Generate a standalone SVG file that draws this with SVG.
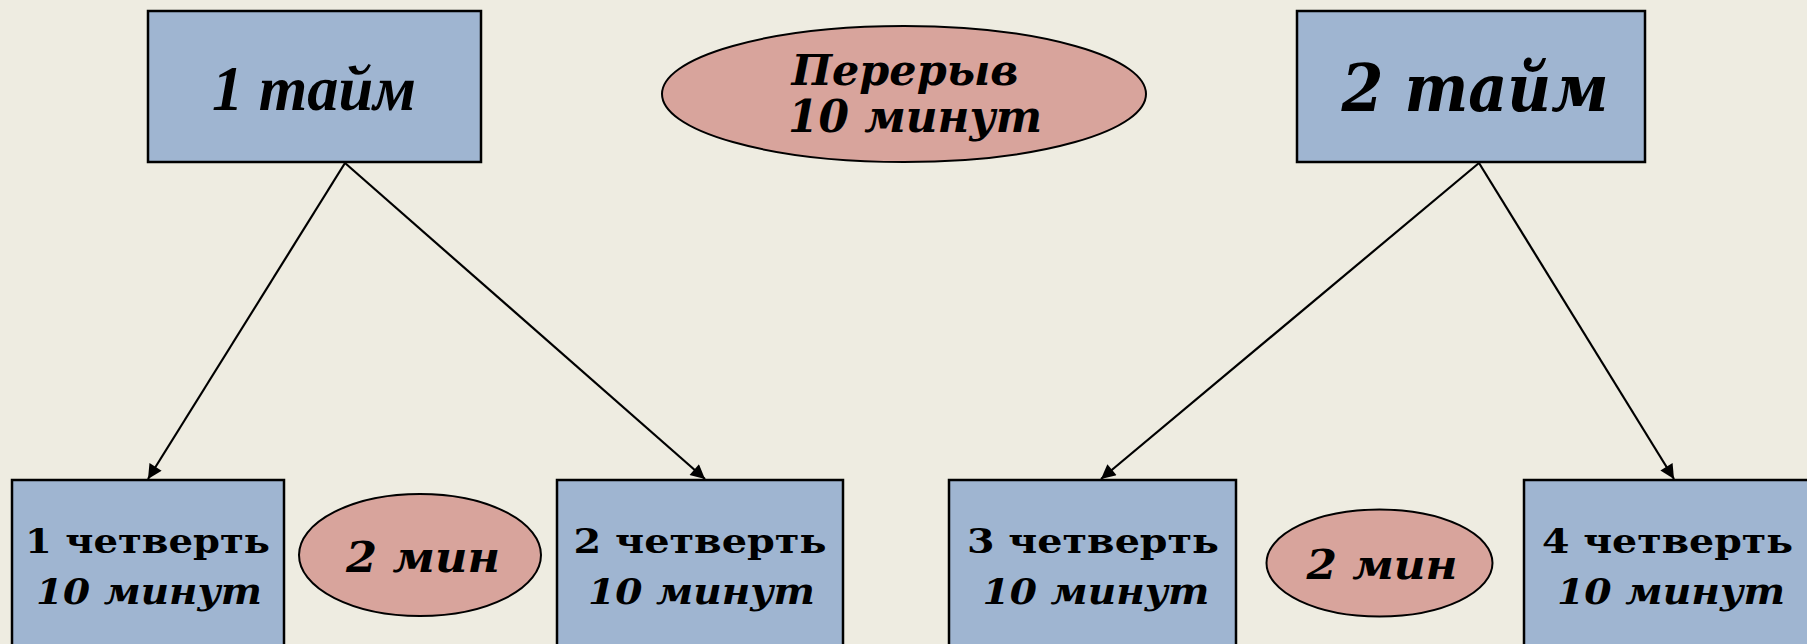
<svg xmlns="http://www.w3.org/2000/svg" width="1807" height="644" viewBox="0 0 1807 644">
<style>
.box{fill:#9FB5D1;stroke:#000;stroke-width:2.5}
.oval{fill:#D8A49C;stroke:#000;stroke-width:2}
.conn{stroke:#000;stroke-width:2.2;fill:none}
.t1{font-family:"Liberation Serif",serif;font-weight:bold;font-style:italic;font-size:64px;fill:#000}
.bk{font-family:"DejaVu Serif",serif;font-weight:bold;fill:#000}
.it{font-style:italic}
</style>
<defs>
<marker id="arr" viewBox="0 0 10 10" refX="10" refY="5" markerWidth="8" markerHeight="6.5" markerUnits="strokeWidth" orient="auto">
<path d="M0,0 L10,5 L0,10 z" fill="#000"/>
</marker>
</defs>
<rect width="1807" height="644" fill="#EEECE1"/>
<g id="connectors">
<line class="conn" x1="345" y1="163" x2="148" y2="479" marker-end="url(#arr)"/>
<line class="conn" x1="345" y1="163" x2="705" y2="479" marker-end="url(#arr)"/>
<line class="conn" x1="1479" y1="163" x2="1101" y2="479" marker-end="url(#arr)"/>
<line class="conn" x1="1479" y1="163" x2="1674" y2="479" marker-end="url(#arr)"/>
</g>
<g id="half1">
<rect class="box" x="148" y="11" width="333" height="151"/>
<text class="t1" x="314" y="110" text-anchor="middle" textLength="204" lengthAdjust="spacingAndGlyphs">1 тайм</text>
</g>
<g id="break">
<ellipse class="oval" cx="904" cy="94" rx="242" ry="68"/>
<text class="bk it" x="905" y="85" font-size="42" text-anchor="middle" textLength="227" lengthAdjust="spacingAndGlyphs">Перерыв</text>
<text class="bk it" x="915" y="132" font-size="44" text-anchor="middle" textLength="254" lengthAdjust="spacingAndGlyphs">10 минут</text>
</g>
<g id="half2">
<rect class="box" x="1297" y="11" width="348" height="151"/>
<text class="bk it" x="1475" y="111" font-size="66" text-anchor="middle" textLength="267" lengthAdjust="spacingAndGlyphs">2 тайм</text>
</g>
<g id="q1">
<rect class="box" x="12" y="480" width="272" height="180"/>
<text class="bk" x="147.5" y="553" font-size="34" text-anchor="middle" textLength="245" lengthAdjust="spacingAndGlyphs">1 четверть</text>
<text class="bk it" x="149" y="604" font-size="35" text-anchor="middle" textLength="226" lengthAdjust="spacingAndGlyphs">10 минут</text>
</g>
<g id="p1">
<ellipse class="oval" cx="420" cy="555" rx="121" ry="61"/>
<text class="bk it" x="423" y="572" font-size="42" text-anchor="middle" textLength="154" lengthAdjust="spacingAndGlyphs">2 мин</text>
</g>
<g id="q2">
<rect class="box" x="557" y="480" width="286" height="180"/>
<text class="bk" x="700" y="553" font-size="34" text-anchor="middle" textLength="253" lengthAdjust="spacingAndGlyphs">2 четверть</text>
<text class="bk it" x="701.5" y="604" font-size="35" text-anchor="middle" textLength="227" lengthAdjust="spacingAndGlyphs">10 минут</text>
</g>
<g id="q3">
<rect class="box" x="949" y="480" width="287" height="180"/>
<text class="bk" x="1093" y="553" font-size="34" text-anchor="middle" textLength="252" lengthAdjust="spacingAndGlyphs">3 четверть</text>
<text class="bk it" x="1096" y="604" font-size="35" text-anchor="middle" textLength="227" lengthAdjust="spacingAndGlyphs">10 минут</text>
</g>
<g id="p2">
<ellipse class="oval" cx="1379.5" cy="563" rx="113" ry="53.5"/>
<text class="bk it" x="1382" y="579" font-size="41" text-anchor="middle" textLength="151" lengthAdjust="spacingAndGlyphs">2 мин</text>
</g>
<g id="q4">
<rect class="box" x="1524" y="480" width="300" height="180"/>
<text class="bk" x="1667.5" y="553" font-size="34" text-anchor="middle" textLength="251" lengthAdjust="spacingAndGlyphs">4 четверть</text>
<text class="bk it" x="1671" y="604" font-size="35" text-anchor="middle" textLength="228" lengthAdjust="spacingAndGlyphs">10 минут</text>
</g>
</svg>
